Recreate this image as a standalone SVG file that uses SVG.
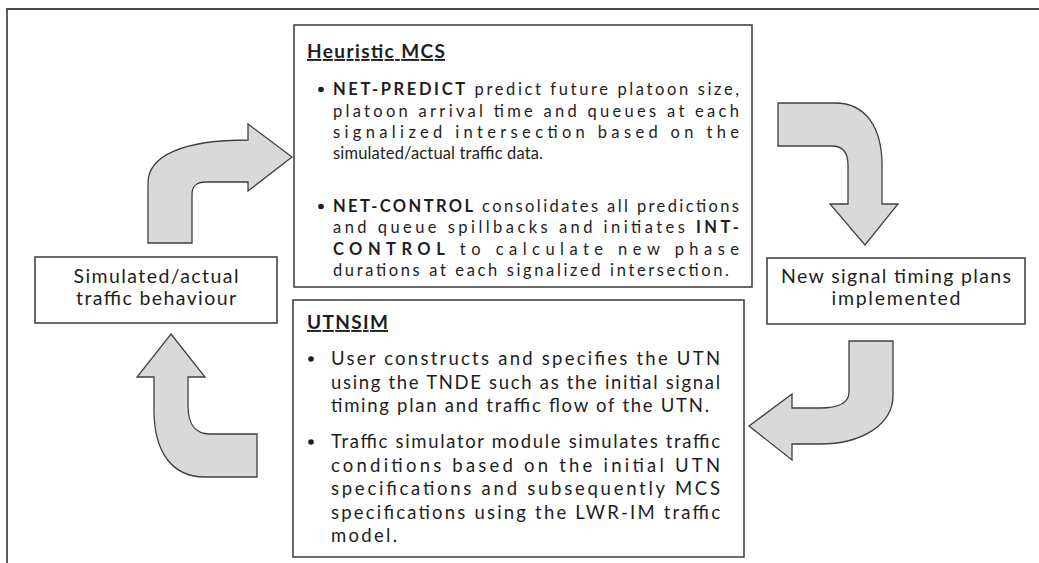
<svg xmlns="http://www.w3.org/2000/svg" width="1039" height="563" viewBox="0 0 1039 563">
<style>
.box{fill:#fff;stroke:#3a3a3a;stroke-width:1.5}
.arrow{fill:#d9d9d9;stroke:#404040;stroke-width:1.3;stroke-linejoin:miter}
text{font-family:Lato,"Open Sans","Liberation Sans",sans-serif;fill:#1e1e1e}
.t1{font-size:16.5px}
.t2{font-size:18.5px}
.lbl{font-size:19.5px;text-anchor:middle}
.ttl{font-size:19px;font-weight:bold;text-decoration:underline}
.b{font-weight:bold}
.dot{fill:#1e1e1e}
</style>
<rect width="1039" height="563" fill="#fff"/>
<path d="M7,563 L7,9 L1039,9" fill="none" stroke="#4a4a4a" stroke-width="1.8"/>

<g id="heuristic-mcs">
<rect class="box" x="294" y="25" width="458" height="262"/>
<text class="ttl" x="307" y="58" textLength="138" lengthAdjust="spacing">Heuristic MCS</text>
<circle class="dot" cx="321" cy="89.5" r="2.8"/>
<text class="t1" x="333" y="95" textLength="406" lengthAdjust="spacing"><tspan class="b">NET-PREDICT</tspan> predict future platoon size,</text>
<text class="t1" x="333" y="116.5" textLength="406" lengthAdjust="spacing">platoon arrival time and queues at each</text>
<text class="t1" x="333" y="138" textLength="406" lengthAdjust="spacing">signalized intersection based on the</text>
<text class="t1" x="333" y="159" textLength="210" lengthAdjust="spacing">simulated/actual traffic data.</text>
<circle class="dot" cx="321" cy="206.5" r="2.8"/>
<text class="t1" x="333" y="212" textLength="406" lengthAdjust="spacing"><tspan class="b">NET-CONTROL</tspan> consolidates all predictions</text>
<text class="t1" x="333" y="233" textLength="406" lengthAdjust="spacing">and queue spillbacks and initiates <tspan class="b">INT-</tspan></text>
<text class="t1" x="333" y="255" textLength="406" lengthAdjust="spacing"><tspan class="b">CONTROL</tspan> to calculate new phase</text>
<text class="t1" x="333" y="276" textLength="396" lengthAdjust="spacing">durations at each signalized intersection.</text>
</g>

<g id="utnsim">
<rect class="box" x="293" y="300" width="451" height="257"/>
<text class="ttl" x="307" y="329" textLength="81" lengthAdjust="spacing">UTNSIM</text>
<circle class="dot" cx="311" cy="359" r="2.8"/>
<text class="t2" x="331" y="365" textLength="389" lengthAdjust="spacing">User constructs and specifies the UTN</text>
<text class="t2" x="331" y="388.5" textLength="389" lengthAdjust="spacing">using the TNDE such as the initial signal</text>
<text class="t2" x="331" y="412" textLength="378" lengthAdjust="spacing">timing plan and traffic flow of the UTN.</text>
<circle class="dot" cx="311" cy="442" r="2.8"/>
<text class="t2" x="331" y="448" textLength="389" lengthAdjust="spacing">Traffic simulator module simulates traffic</text>
<text class="t2" x="331" y="472" textLength="389" lengthAdjust="spacing">conditions based on the initial UTN</text>
<text class="t2" x="331" y="495" textLength="389" lengthAdjust="spacing">specifications and subsequently MCS</text>
<text class="t2" x="331" y="518.5" textLength="389" lengthAdjust="spacing">specifications using the LWR-IM traffic</text>
<text class="t2" x="331" y="542" textLength="66" lengthAdjust="spacing">model.</text>
</g>

<g id="traffic-behaviour">
<rect class="box" x="35" y="257" width="242" height="66"/>
<text class="lbl" x="156" y="283" textLength="165" lengthAdjust="spacing">Simulated/actual</text>
<text class="lbl" x="156" y="305" textLength="160" lengthAdjust="spacing">traffic behaviour</text>
</g>

<g id="signal-timing">
<rect class="box" x="767" y="258" width="258" height="66"/>
<text class="lbl" x="896" y="283" textLength="230" lengthAdjust="spacing">New signal timing plans</text>
<text class="lbl" x="896" y="305" textLength="129" lengthAdjust="spacing">implemented</text>
</g>

<g id="connectors">
<path class="arrow" d="M148,243 L148,183 C148,156 182,140 248,140 L248,124 L292,157 L248,191 L248,182 L206,182 C196,182 192,186 192,195 L192,243 Z"/>
<path class="arrow" d="M778,103 L835,103 C866,103 882,128 882,165 L882,204 L898,204 L865,245 L830,204 L848,204 L848,165 C848,152 843,146 832,146 L778,146 Z"/>
<path class="arrow" d="M849,341 L893,341 L893,395 C893,426 860,444 820,444 L792,444 L792,460 L749,426 L792,394 L792,408 L820,408 C840,408 849,403 849,392 Z"/>
<path class="arrow" d="M171,334 L205,377 L188,377 L188,405 C188,425 195,434 210,434 L257,434 L257,477 L205,477 C172,477 154,452 154,410 L154,377 L137,377 Z"/>
</g>
</svg>
